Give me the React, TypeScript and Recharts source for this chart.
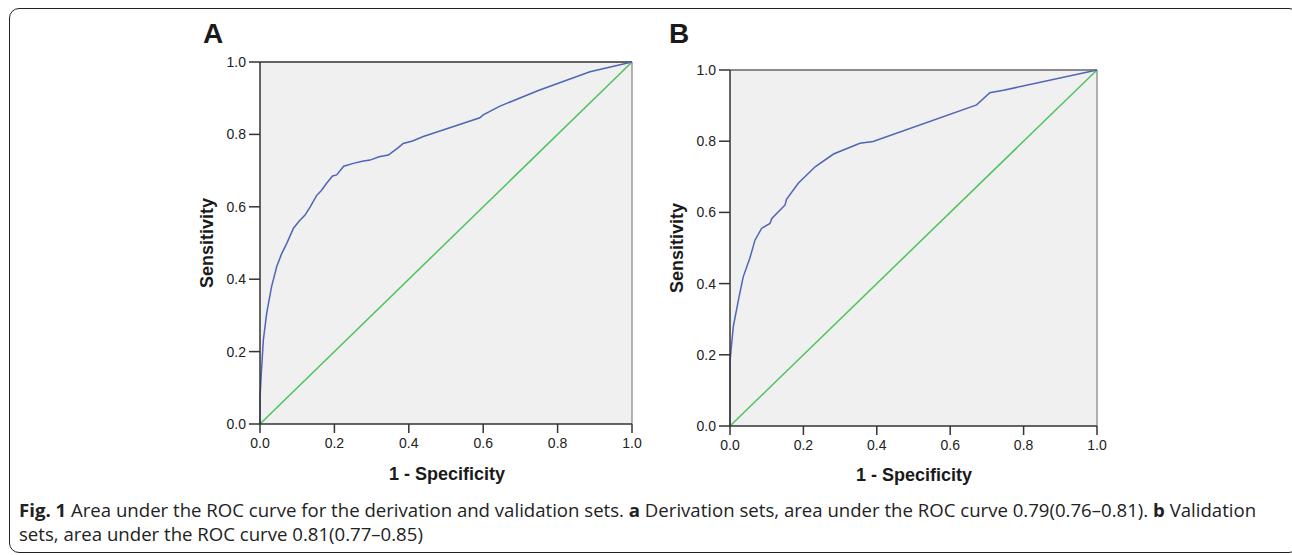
import React from 'react';
import { LineChart, Line, XAxis, YAxis, CartesianGrid, ReferenceLine } from 'recharts';

// ROC points (1 - specificity, sensitivity)
const derivFpr = [0, 0, 0.003, 0.009, 0.018, 0.031, 0.045, 0.058, 0.072, 0.09, 0.105, 0.121, 0.135, 0.152, 0.165, 0.179, 0.195, 0.206, 0.225, 0.251, 0.275, 0.296, 0.32, 0.345, 0.37, 0.385, 0.41, 0.439, 0.5, 0.591, 0.6, 0.645, 0.75, 0.887, 1];
const derivTpr = [0, 0.07, 0.131, 0.232, 0.306, 0.379, 0.435, 0.47, 0.499, 0.541, 0.56, 0.577, 0.6, 0.631, 0.645, 0.665, 0.685, 0.688, 0.712, 0.72, 0.726, 0.729, 0.738, 0.743, 0.762, 0.775, 0.782, 0.794, 0.815, 0.846, 0.854, 0.878, 0.922, 0.973, 1];

const validFpr = [0, 0, 0.002, 0.009, 0.023, 0.036, 0.054, 0.068, 0.086, 0.109, 0.114, 0.15, 0.154, 0.186, 0.232, 0.282, 0.354, 0.39, 0.672, 0.708, 0.745, 1];
const validTpr = [0, 0.18, 0.204, 0.279, 0.354, 0.419, 0.471, 0.522, 0.555, 0.569, 0.583, 0.621, 0.637, 0.682, 0.728, 0.764, 0.794, 0.799, 0.902, 0.936, 0.943, 1];

const chanceFpr = [0, 1];
const chanceTpr = [0, 1];

const axisTicks = [0, 0.2, 0.4, 0.6, 0.8, 1];

const toPoints = (xs: number[], ys: number[]) => xs.map((x, i) => ({ fpr: x, tpr: ys[i] }));

const tickFont = { fill: '#222', fontSize: 14, fontFamily: 'Liberation Sans, Arial, sans-serif' };
const titleFont: React.CSSProperties = {
  position: 'absolute',
  fontFamily: 'Liberation Sans, Arial, sans-serif',
  fontWeight: 'bold',
  color: '#1a1a1a',
  whiteSpace: 'nowrap',
};

type PanelProps = {
  left: number;
  top: number;
  width: number;
  height: number;
  plotRight: number;
  xAxisHeight: number;
  points: { fpr: number; tpr: number }[];
  topStroke: string;
};

function RocPanel({ left, top, width, height, plotRight, xAxisHeight, points, topStroke }: PanelProps) {
  const chance = toPoints(chanceFpr, chanceTpr);
  return (
    <div style={{ position: 'absolute', left, top }}>
      <LineChart width={width} height={height} margin={{ top: 12, right: plotRight, left: 0, bottom: 0 }}>
        <CartesianGrid fill="#f0f0f0" horizontal={false} vertical={false} />
        <XAxis
          type="number"
          dataKey="fpr"
          domain={[0, 1]}
          ticks={axisTicks}
          tickFormatter={(v) => v.toFixed(1)}
          tick={tickFont}
          tickSize={9}
          tickMargin={5}
          height={xAxisHeight}
          stroke="#333"
          strokeWidth={1.5}
          interval={0}
        />
        <YAxis
          type="number"
          dataKey="tpr"
          domain={[0, 1]}
          ticks={axisTicks}
          tickFormatter={(v) => v.toFixed(1)}
          tick={tickFont}
          tickSize={11}
          tickMargin={3}
          width={80}
          stroke="#333"
          strokeWidth={1.5}
          interval={0}
        />
        <ReferenceLine y={1} stroke={topStroke} strokeWidth={1.5} />
        <ReferenceLine x={1} stroke="#999" strokeWidth={1.5} />
        <Line data={chance} dataKey="tpr" type="linear" stroke="#4cc35a" strokeWidth={1.5} dot={false} isAnimationActive={false} />
        <Line data={points} dataKey="tpr" type="linear" stroke="#4f65b5" strokeWidth={1.5} dot={false} isAnimationActive={false} />
      </LineChart>
    </div>
  );
}

export default function App() {
  return (
    <div style={{ position: 'absolute', left: 0, top: 0, width: 1292, height: 555, background: '#fff', overflow: 'hidden' }}>
      <div
        style={{
          position: 'absolute',
          left: 9,
          top: 8,
          width: 1290,
          height: 545,
          border: '1.5px solid #222',
          borderRadius: 10,
          boxSizing: 'border-box',
        }}
      />

      <div style={{ ...titleFont, left: 203, top: 18, fontSize: 28, lineHeight: '32px' }}>A</div>
      <div style={{ ...titleFont, left: 669, top: 18, fontSize: 28, lineHeight: '32px' }}>B</div>

      <RocPanel left={180} top={50} width={470} height={420} plotRight={18} xAxisHeight={46} points={toPoints(derivFpr, derivTpr)} topStroke="#333" />
      <RocPanel left={650} top={58} width={470} height={420} plotRight={23} xAxisHeight={52} points={toPoints(validFpr, validTpr)} topStroke="#666" />

      <div style={{ ...titleFont, left: 447, top: 474, fontSize: 18, transform: 'translate(-50%, -50%)' }}>1 - Specificity</div>
      <div style={{ ...titleFont, left: 914, top: 475, fontSize: 18, transform: 'translate(-50%, -50%)' }}>1 - Specificity</div>
      <div style={{ ...titleFont, left: 207, top: 243, fontSize: 18, transform: 'translate(-50%, -50%) rotate(-90deg)' }}>Sensitivity</div>
      <div style={{ ...titleFont, left: 677, top: 248, fontSize: 18, transform: 'translate(-50%, -50%) rotate(-90deg)' }}>Sensitivity</div>

      <div style={{ position: 'absolute', left: 19, top: 498, fontFamily: '"Open Sans", sans-serif', fontSize: 18.6, lineHeight: '24px', color: '#222', whiteSpace: 'nowrap' }}>
        <div>
          <b>Fig. 1</b> Area under the ROC curve for the derivation and validation sets. <b>a</b> Derivation sets, area under the ROC curve 0.79(0.76–0.81). <b>b</b> Validation
        </div>
        <div>sets, area under the ROC curve 0.81(0.77–0.85)</div>
      </div>
    </div>
  );
}
